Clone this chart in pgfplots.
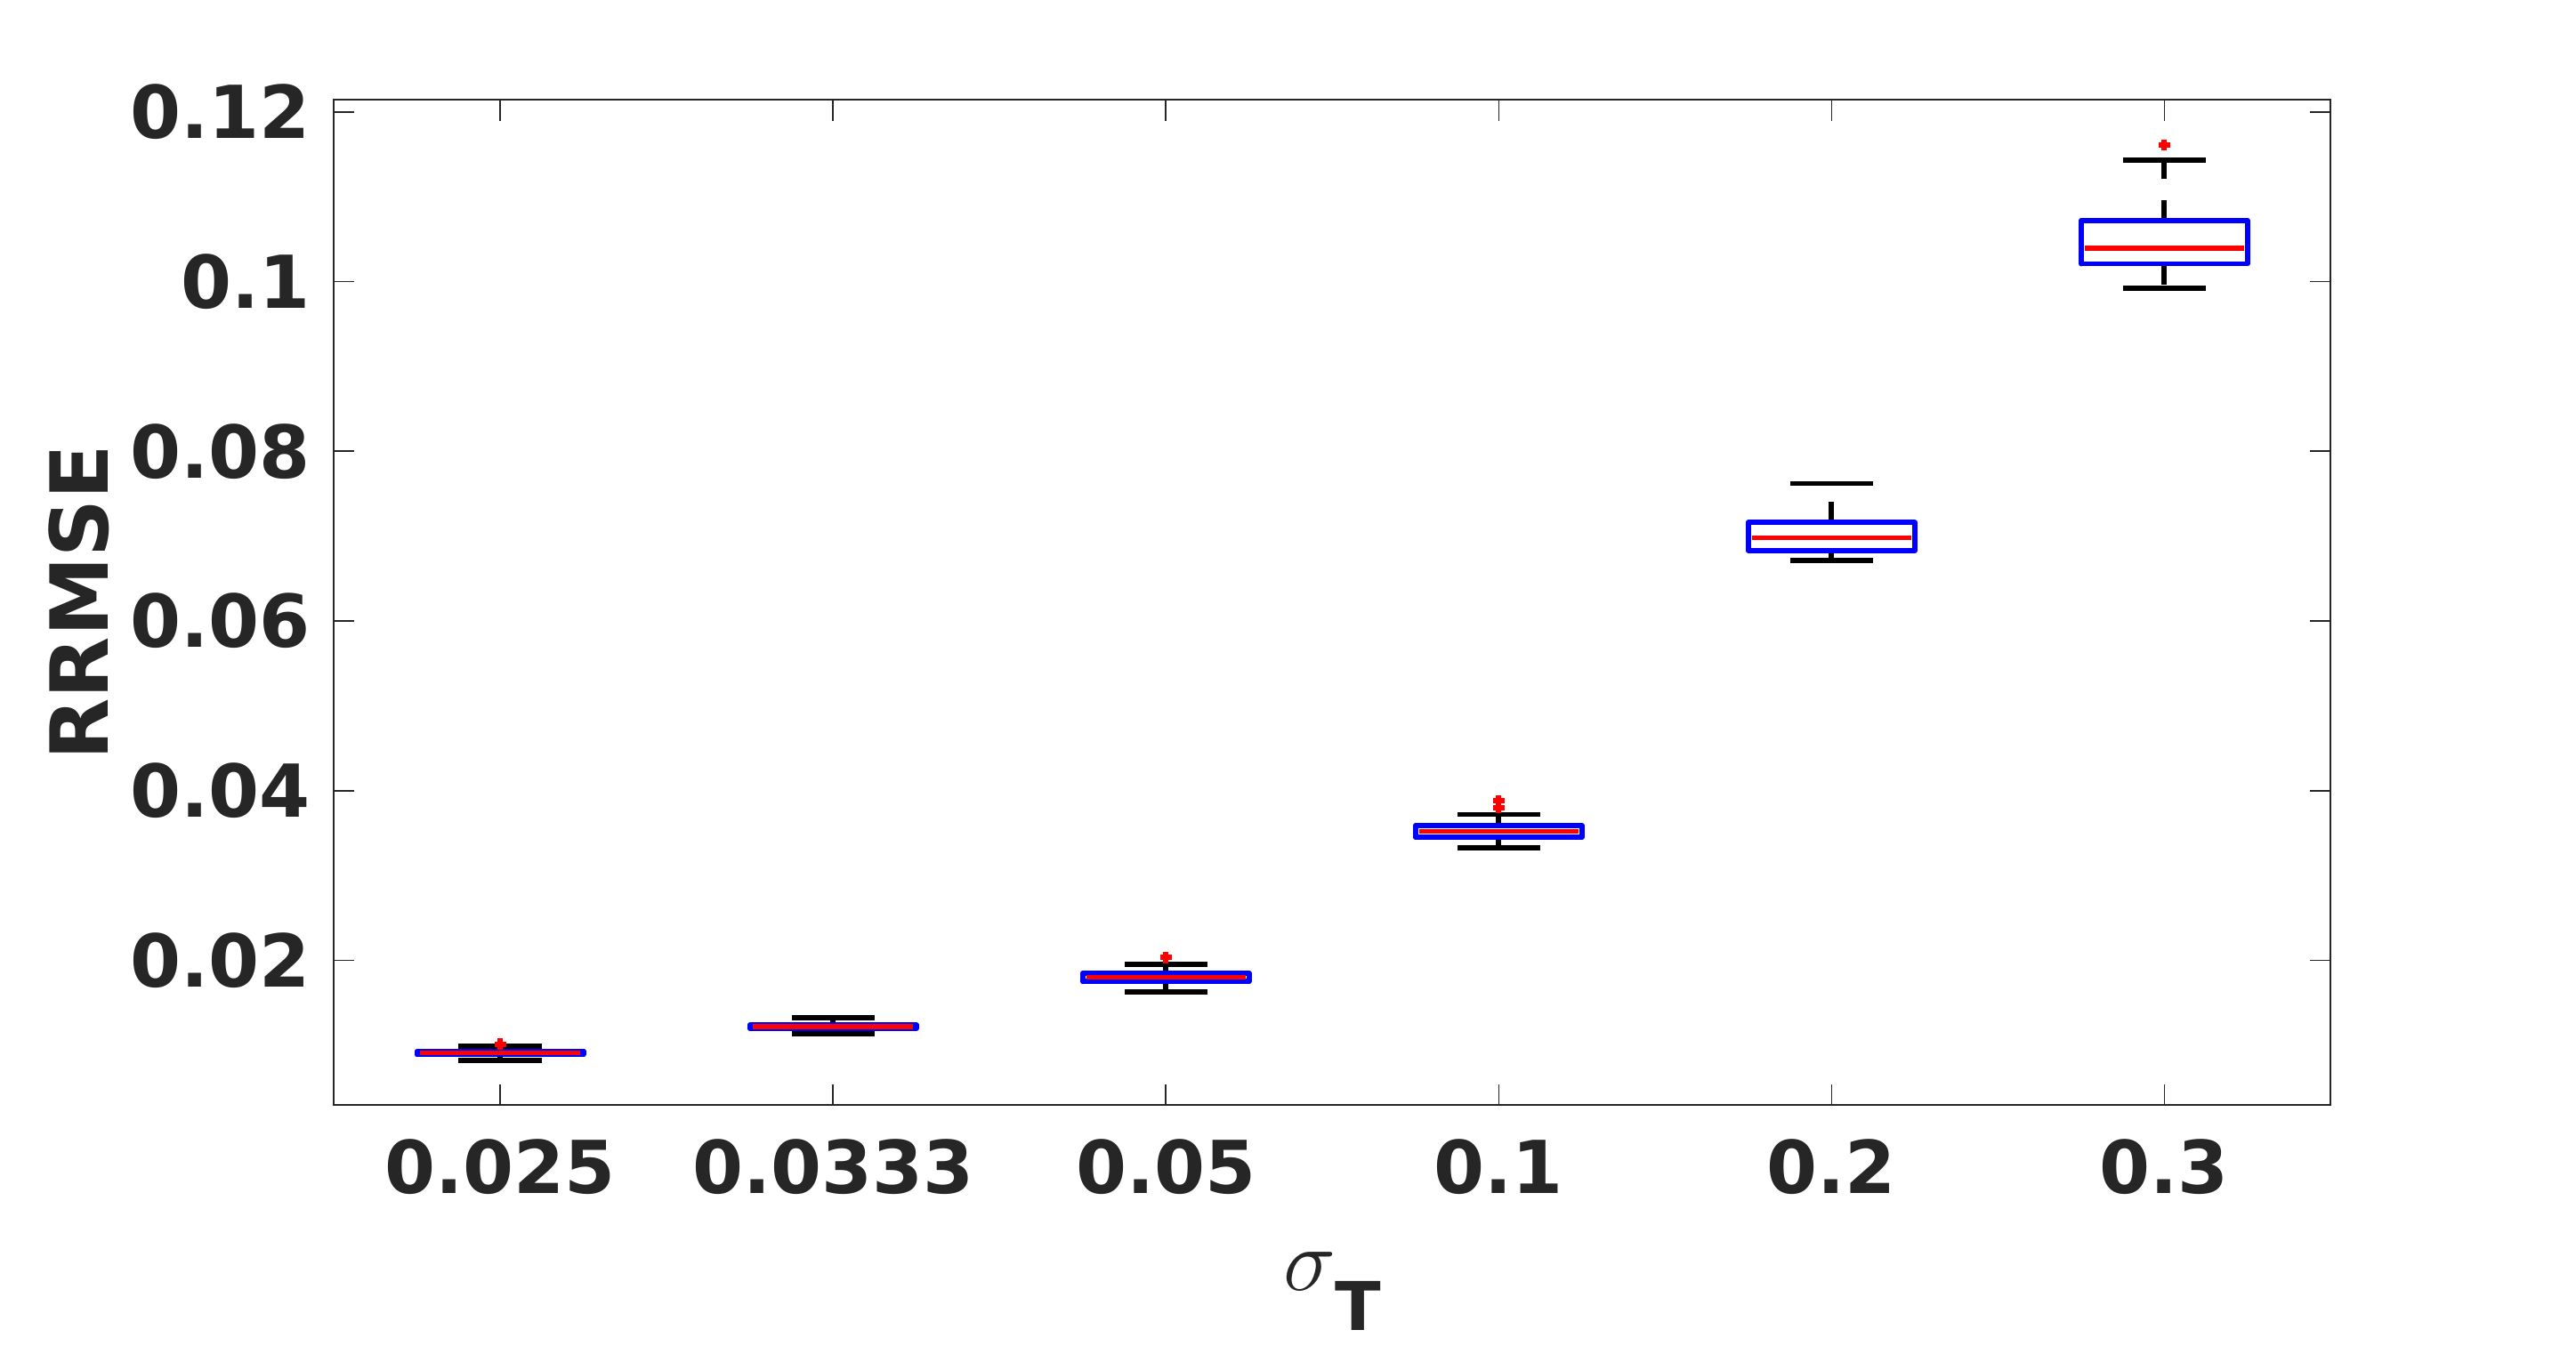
\documentclass[border=0pt]{standalone}
\usepackage{pgfplots}
\pgfplotsset{compat=1.18}
\usepackage{fontspec}
\setmainfont{DejaVu Sans}
\definecolor{txt}{HTML}{262626}
\begin{document}
\begin{tikzpicture}
\begin{axis}[
  scale only axis,
  width=561pt, height=282.4pt,
  xmin=0.5, xmax=6.5,
  ymin=0.00295, ymax=0.1214,
  unbounded coords=jump,
  xtick={1,2,3,4,5,6},
  xticklabels={0.025,0.0333,0.05,0.1,0.2,0.3},
  ytick={0.02,0.04,0.06,0.08,0.1,0.12},
  yticklabels={0.02,0.04,0.06,0.08,0.1,0.12},
  tick align=inside,
  tick pos=both,
  major tick length=5.8pt,
  axis line style={color=txt, line width=0.5pt},
  major tick style={color=txt, line width=0.4pt},
  ticklabel style={font=\fontsize{20.5}{24}\selectfont\bfseries, color=txt, inner sep=0pt},
  xticklabel style={anchor=base, yshift=-24.9pt},
  yticklabel style={anchor=east, xshift=-6.5pt},
  xlabel={$\sigma$\raisebox{-11.25pt}{\fontsize{18.9}{20}\selectfont\bfseries T}},
  xlabel style={at={(axis description cs:0.5,0)}, anchor=base, yshift=-52pt,
    font=\fontsize{23}{26}\selectfont, color=txt, inner sep=0pt},
  ylabel={RRMSE},
  ylabel style={at={(axis description cs:-0.113,0.5)}, anchor=base,
    font=\fontsize{22.5}{26}\selectfont\bfseries, color=txt, inner sep=0pt},
]
% whisker stems (dashed), from quartile to whisker end
\addplot[black, line width=1.45pt, dash pattern=on 5.8pt off 5.8pt, mark=none] coordinates {
  (1,0.0093) (1,0.0099) (nan,nan) (1,0.0089) (1,0.0082) (nan,nan)
  (2,0.0124) (2,0.01325) (nan,nan) (2,0.0120) (2,0.01136) (nan,nan)
  (3,0.0185) (3,0.0195) (nan,nan) (3,0.0175) (3,0.0163) (nan,nan)
  (4,0.0359) (4,0.0372) (nan,nan) (4,0.0345) (4,0.0333) (nan,nan)
  (5,0.0716) (5,0.0762) (nan,nan) (5,0.0683) (5,0.0671) (nan,nan)
  (6,0.1072) (6,0.1143) (nan,nan) (6,0.1021) (6,0.0992)
};
% whisker caps
\addplot[black, line width=1.45pt, mark=none] coordinates {
  (0.875,0.0099) (1.125,0.0099) (nan,nan) (0.875,0.0082) (1.125,0.0082) (nan,nan)
  (1.875,0.01325) (2.125,0.01325) (nan,nan) (1.875,0.01136) (2.125,0.01136) (nan,nan)
  (2.875,0.0195) (3.125,0.0195) (nan,nan) (2.875,0.0163) (3.125,0.0163) (nan,nan)
  (3.875,0.0372) (4.125,0.0372) (nan,nan) (3.875,0.0333) (4.125,0.0333) (nan,nan)
  (4.875,0.0762) (5.125,0.0762) (nan,nan) (4.875,0.0671) (5.125,0.0671) (nan,nan)
  (5.875,0.1143) (6.125,0.1143) (nan,nan) (5.875,0.0992) (6.125,0.0992)
};
% boxes (lower quartile to upper quartile)
\addplot[blue, line width=1.45pt, line join=round, line cap=round, mark=none] coordinates {
  (0.75,0.0089) (1.25,0.0089) (1.25,0.0093) (0.75,0.0093) (0.75,0.0089) (nan,nan)
  (1.75,0.0120) (2.25,0.0120) (2.25,0.0124) (1.75,0.0124) (1.75,0.0120) (nan,nan)
  (2.75,0.0175) (3.25,0.0175) (3.25,0.0185) (2.75,0.0185) (2.75,0.0175) (nan,nan)
  (3.75,0.0345) (4.25,0.0345) (4.25,0.0359) (3.75,0.0359) (3.75,0.0345) (nan,nan)
  (4.75,0.0683) (5.25,0.0683) (5.25,0.0716) (4.75,0.0716) (4.75,0.0683) (nan,nan)
  (5.75,0.1021) (6.25,0.1021) (6.25,0.1072) (5.75,0.1072) (5.75,0.1021)
};
% medians
\addplot[red, line width=1.45pt, mark=none] coordinates {
  (0.76,0.0091) (1.24,0.0091) (nan,nan)
  (1.76,0.0122) (2.24,0.0122) (nan,nan)
  (2.76,0.0180) (3.24,0.0180) (nan,nan)
  (3.76,0.0352) (4.24,0.0352) (nan,nan)
  (4.76,0.0698) (5.24,0.0698) (nan,nan)
  (5.76,0.1039) (6.24,0.1039)
};
% outliers
\addplot[only marks, mark=+, mark size=1.6pt, red, line width=1.5pt] coordinates {
  (1,0.0101) (3,0.02035) (4,0.0380) (4,0.0388) (6,0.1161)
};
\end{axis}
\path (-93.8pt,-67.5pt) rectangle (629.9pt,310.5pt);
\end{tikzpicture}
\end{document}
